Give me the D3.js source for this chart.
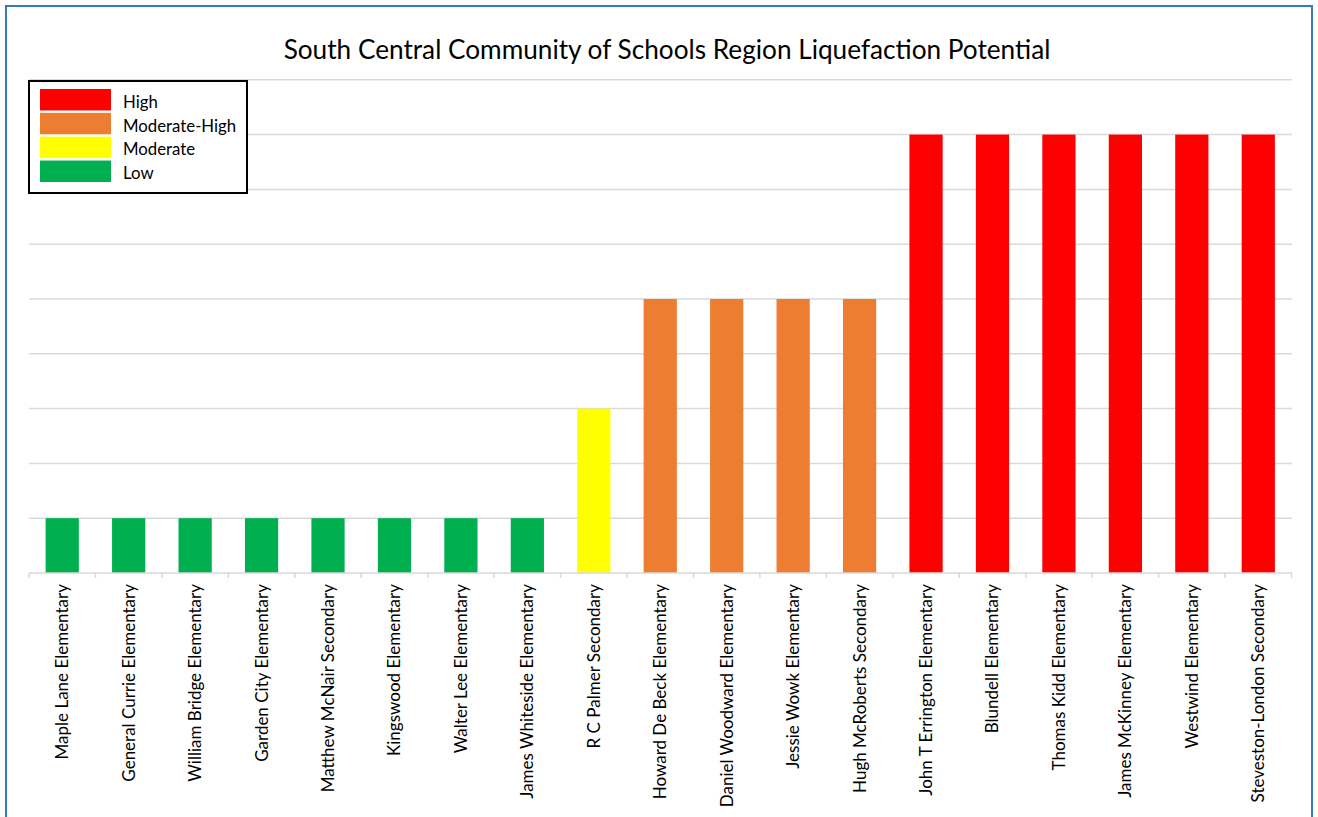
<!DOCTYPE html>
<html>
<head>
<meta charset="utf-8">
<script src="https://cdn.jsdelivr.net/npm/d3@7"></script>
<style>
  html, body { margin: 0; padding: 0; background: #fff; }
  svg { display: block; }
  text { font-family: Lato, "Open Sans", sans-serif; fill: #000; }
</style>
</head>
<body>
<svg id="chart" width="1318" height="817"></svg>
<script>
const title = "South Central Community of Schools Region Liquefaction Potential";

const schools = [
  "Maple Lane Elementary", "General Currie Elementary", "William Bridge Elementary",
  "Garden City Elementary", "Matthew McNair Secondary", "Kingswood Elementary",
  "Walter Lee Elementary", "James Whiteside Elementary", "R C Palmer Secondary",
  "Howard De Beck Elementary", "Daniel Woodward Elementary", "Jessie Wowk Elementary",
  "Hugh McRoberts Secondary", "John T Errington Elementary", "Blundell Elementary",
  "Thomas Kidd Elementary", "James McKinney Elementary", "Westwind Elementary",
  "Steveston-London Secondary"
];

const potential = [
  "Low", "Low", "Low", "Low", "Low", "Low", "Low", "Low", "Moderate",
  "Moderate-High", "Moderate-High", "Moderate-High", "Moderate-High",
  "High", "High", "High", "High", "High", "High"
];

const values = [1, 1, 1, 1, 1, 1, 1, 1, 3, 5, 5, 5, 5, 8, 8, 8, 8, 8, 8];

const legendLevels = ["High", "Moderate-High", "Moderate", "Low"];
const legendColors = ["#ff0000", "#ed7d31", "#ffff00", "#00b050"];

const yTicks = [0, 1, 2, 3, 4, 5, 6, 7, 8, 9];

const svg = d3.select("#chart");

// outer border (blue frame)
svg.append("rect")
  .attr("x", 6).attr("y", 6)
  .attr("width", 1306).attr("height", 830)
  .attr("fill", "none")
  .attr("stroke", "#3a78bd")
  .attr("stroke-width", 2);

const color = d3.scaleOrdinal().domain(legendLevels).range(legendColors);

const x = d3.scaleBand().domain(schools).range([29, 1291.5]).paddingInner(0.5).paddingOuter(0.25);
const y = d3.scaleLinear().domain([0, 9]).range([573, 79.8]);

// gridlines
svg.append("g").selectAll("line").data(yTicks.slice(1)).join("line")
  .attr("x1", 29).attr("x2", 1292)
  .attr("y1", d => y(d)).attr("y2", d => y(d))
  .attr("stroke", "#d9d9d9").attr("stroke-width", 1.5);

// bars
svg.append("g").selectAll("rect").data(schools).join("rect")
  .attr("x", d => x(d))
  .attr("width", x.bandwidth())
  .attr("y", (d, i) => y(values[i]))
  .attr("height", (d, i) => y(0) - y(values[i]))
  .attr("fill", (d, i) => color(potential[i]));

// x axis line + tick marks at category boundaries
const step = x.step();
const gx = svg.append("g");
gx.append("line")
  .attr("x1", 29).attr("x2", 1292)
  .attr("y1", y(0)).attr("y2", y(0))
  .attr("stroke", "#d9d9d9").attr("stroke-width", 1.5);
const boundaries = d3.range(schools.length + 1);
gx.selectAll("line.tick").data(boundaries).join("line")
  .attr("class", "tick")
  .attr("x1", i => x(schools[0]) - step * 0.25 + i * step)
  .attr("x2", i => x(schools[0]) - step * 0.25 + i * step)
  .attr("y1", y(0)).attr("y2", y(0) + 5)
  .attr("stroke", "#d9d9d9").attr("stroke-width", 1.5);

// x labels rotated
gx.selectAll("text").data(schools).join("text")
  .attr("transform", d => `translate(${x(d) + x.bandwidth() / 2 + 6},584) rotate(-90)`)
  .attr("text-anchor", "end")
  .attr("font-size", 17)
  .text(d => d);

// title
svg.append("text")
  .attr("x", 667).attr("y", 59)
  .attr("text-anchor", "middle")
  .attr("font-size", 26.2)
  .text(title);

// legend
const lg = svg.append("g");
lg.append("rect")
  .attr("x", 29).attr("y", 81).attr("width", 218).attr("height", 112)
  .attr("fill", "#fff").attr("stroke", "#000").attr("stroke-width", 2);
const ly = d3.scaleBand().domain(legendLevels).range([89, 182]).paddingInner(0.1);
lg.selectAll("rect.sw").data(legendLevels).join("rect")
  .attr("class", "sw")
  .attr("x", 40).attr("y", d => ly(d))
  .attr("width", 71).attr("height", ly.bandwidth())
  .attr("fill", d => color(d));
lg.selectAll("text").data(legendLevels).join("text")
  .attr("x", 123).attr("y", d => ly(d) + ly.bandwidth() / 2 + 8)
  .attr("font-size", 16.8)
  .text(d => d);
</script>
</body>
</html>
